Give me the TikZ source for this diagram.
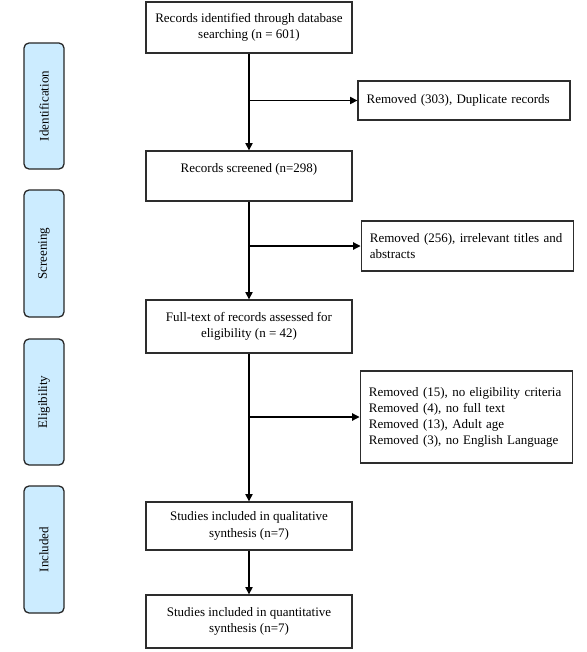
\documentclass[tikz,border=0pt]{standalone}
\usepackage{fontspec}
\setmainfont{Liberation Serif}
\usetikzlibrary{arrows.meta,positioning,calc}
\definecolor{phasefill}{RGB}{204,236,255}
\definecolor{ink}{RGB}{45,45,45}
\newcommand{\prismafont}{\fontsize{11.1}{14.2}\selectfont}
\newcommand{\removedfont}{\fontsize{11.1}{13.7}\selectfont}
\tikzset{
  >={Triangle[length=2.2mm,width=2.2mm]},
  record/.style={draw=ink,line width=1.1pt,minimum width=6.18cm,
    align=center,inner sep=0pt,font=\prismafont},
  removed/.style={draw=ink,line width=1.1pt,text width=5.86cm,inner xsep=0.26cm,
    inner ysep=0pt,align=left,font=\removedfont},
  phase/.style={draw=black!85,fill=phasefill,line width=1.1pt,rounded corners=0.15cm,
    rotate=90,minimum height=1.2cm,font=\prismafont},
  flow/.style={->,line width=0.9pt,draw=black},
}

\begin{document}
\begin{tikzpicture}
  \useasboundingbox (0,0) rectangle (17.61,-19.56);
  % phases
  \node[phase,minimum width=3.78cm] (idn) at (1.32,-3.18) {Identification};
  \node[phase,minimum width=3.81cm] (scr) at (1.32,-7.605) {Screening};
  \node[phase,minimum width=3.78cm] (eli) at (1.32,-12.06) {Eligibility};
  \node[phase,minimum width=3.81cm] (inc) at (1.32,-16.485) {Included};
  % main flow
  \node[record,minimum height=1.53cm] (found) at (7.47,-0.825)
    {Records identified through database\\searching (n = 601)};
  \node[record,minimum height=1.5cm] (screened) at (7.47,-5.28)
    {Records screened (n=298)\\\mbox{}};
  \node[record,minimum height=1.59cm] (fulltext) at (7.47,-9.795)
    {Full-text of records assessed for\\eligibility (n = 42)};
  \node[record,minimum height=1.44cm] (qual) at (7.47,-15.78)
    {Studies included in qualitative\\synthesis (n=7)};
  \node[record,minimum height=1.59cm] (quant) at (7.47,-18.645)
    {Studies included in quantitative\\synthesis (n=7)};
  % exclusions
  \node[removed,minimum height=1.17cm,text width=5.84cm] (dup) at (13.92,-3.015)
    {Removed (303), Duplicate records};
  \node[removed,minimum height=1.5cm] (irr) at (14.025,-7.38)
    {Removed (256), irrelevant titles and abstracts};
  \node[removed,minimum height=2.76cm] (excl) at (13.995,-12.51)
    {Removed (15), no eligibility criteria\\Removed (4), no full text\\
     Removed (13), Adult age\\Removed (3), no English Language};
  % arrows
  \draw[flow] (found) -- (screened);
  \draw[flow] (screened) -- (fulltext);
  \draw[flow] (fulltext) -- (qual);
  \draw[flow] (qual) -- (quant);
  \draw[flow] (found.south |- dup.west) -- (dup.west);
  \draw[flow] (screened.south |- irr.west) -- (irr.west);
  \draw[flow] (fulltext.south |- excl.west) -- (excl.west);
\end{tikzpicture}
\end{document}
